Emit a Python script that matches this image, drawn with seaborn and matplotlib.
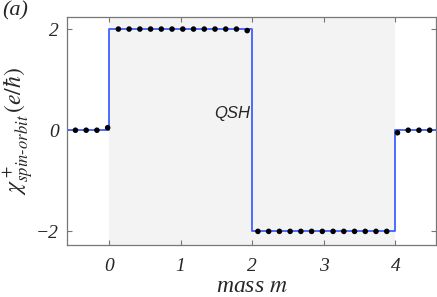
import matplotlib
matplotlib.use("Agg")
import matplotlib.pyplot as plt
import seaborn as sns
import pandas as pd

# sampled points (black dots)
mass = [-0.47, -0.32, -0.17, -0.02,
        0.13, 0.28, 0.43, 0.58, 0.73, 0.88, 1.03, 1.18, 1.33, 1.48, 1.63, 1.78, 1.93,
        2.08, 2.23, 2.38, 2.53, 2.68, 2.83, 2.98, 3.13, 3.28, 3.43, 3.58, 3.73, 3.88,
        4.03, 4.18, 4.33, 4.48]
chi = [0, 0, 0, 0.05,
       2, 2, 2, 2, 2, 2, 2, 2, 2, 2, 2, 2, 1.97,
       -2, -2, -2, -2, -2, -2, -2, -2, -2, -2, -2, -2, -2,
       -0.05, 0, 0, 0]

# exact step curve (blue line)
step_m = [-0.6, 0, 0, 2, 2, 4, 4, 4.6]
step_chi = [0, 0, 2, 2, -2, -2, 0, 0]

xticks = [0, 1, 2, 3, 4]
yticks = [-2, 0, 2]

sns.set_style("ticks")
plt.rcParams["font.family"] = ["Liberation Serif", "DejaVu Serif"]
plt.rcParams["mathtext.fontset"] = "stix"

fig = plt.figure(figsize=(4.37, 2.97), dpi=100)
ax = fig.add_axes([0.153, 0.175, 0.845, 0.768])

ax.axvspan(0, 4, color="#f3f3f3", lw=0, zorder=0)

step_df = pd.DataFrame({"m": step_m, "chi": step_chi})
sns.lineplot(data=step_df, x="m", y="chi", sort=False, estimator=None,
             color="#3f5fff", lw=1.3, ax=ax, zorder=2)

dots_df = pd.DataFrame({"m": mass, "chi": chi})
sns.scatterplot(data=dots_df, x="m", y="chi", color="black", s=16, edgecolor="none", ax=ax, zorder=3)

ax.set_xlim(-0.59, 4.57)
ax.set_ylim(-2.27, 2.24)
ax.set_xticks(xticks)
ax.set_yticks(yticks)
ax.set_xticklabels([str(t) for t in xticks], fontstyle="italic", fontsize=14)
ax.set_yticklabels(["\u22122", "0", "2"], fontstyle="italic", fontsize=14)
ax.tick_params(direction="in", length=3.5, width=0.8, color="#777777",
               top=True, right=True)
ax.tick_params(axis="x", pad=9)
ax.tick_params(axis="y", pad=6)
for sp in ax.spines.values():
    sp.set_color("#777777")
    sp.set_linewidth(0.9)

ax.set_xlabel("mass $m$", fontstyle="italic", fontsize=17, labelpad=1)
ax.set_ylabel(r"$\chi^+_{spin\text{-}orbit}\,(e/\hbar)$", fontsize=17, labelpad=0)

ax.text(1.97, 0.34, "QSH", family=["Liberation Sans", "DejaVu Sans"],
        fontstyle="italic", fontsize=12, ha="right", va="center")

fig.text(0.005, 0.995, "(a)", fontstyle="italic", fontsize=16, ha="left", va="top")

fig.savefig("out.png", dpi=100)
